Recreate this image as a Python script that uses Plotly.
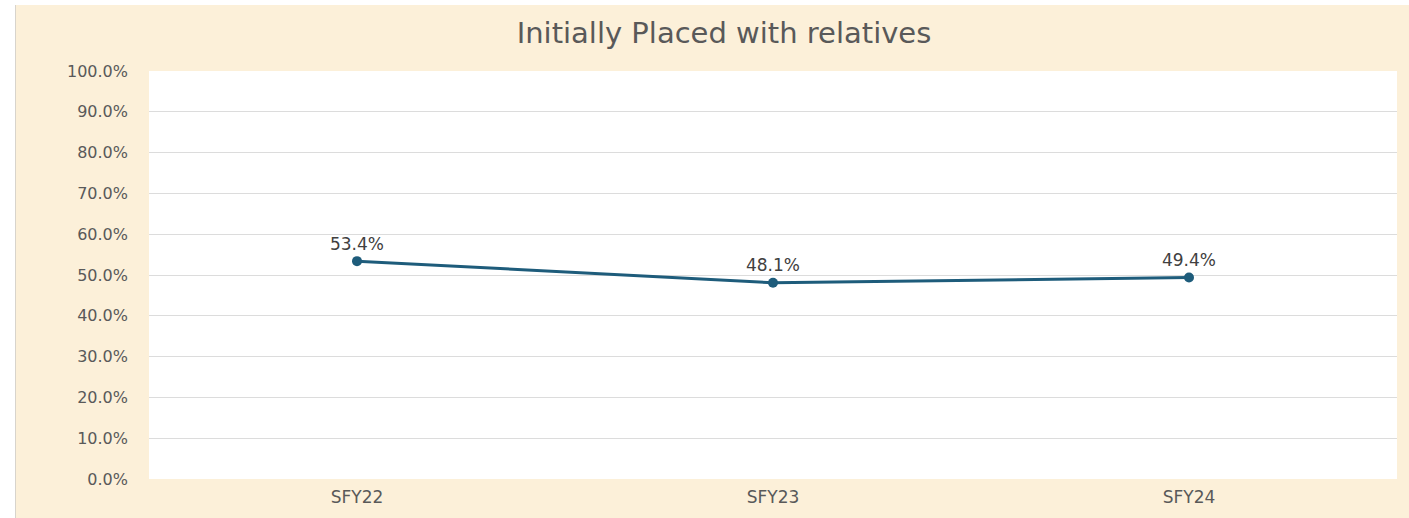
import plotly.graph_objects as go

categories = ["SFY22", "SFY23", "SFY24"]
values = [0.534, 0.481, 0.494]
value_labels = ["53.4%", "48.1%", "49.4%"]
y_ticks = [0, 0.1, 0.2, 0.3, 0.4, 0.5, 0.6, 0.7, 0.8, 0.9, 1.0]
y_tick_labels = ["0.0%", "10.0%", "20.0%", "30.0%", "40.0%", "50.0%",
                 "60.0%", "70.0%", "80.0%", "90.0%", "100.0%"]
title_text = "Initially Placed with relatives"

W, H = 1409, 518
L, R, T, B = 149, 12, 71, 39
pw, ph = W - L - R, H - T - B

def px_x(px):
    return (px - L) / pw

def px_y(py):
    return (H - B - py) / ph

line_color = "#1E5C7B"
text_color = "#595959"
font_family = "DejaVu Sans, Arial, sans-serif"

fig = go.Figure()
fig.add_trace(go.Scatter(
    x=categories, y=values,
    mode="lines+markers+text",
    line=dict(color=line_color, width=3),
    marker=dict(color=line_color, size=10),
    text=value_labels,
    textposition="top center",
    textfont=dict(family=font_family, size=17, color="#404040"),
    cliponaxis=False,
    showlegend=False,
))

shapes = [
    # white page strip on top and left
    dict(type="rect", xref="paper", yref="paper",
         x0=px_x(-5), x1=px_x(W + 5), y0=px_y(5), y1=px_y(-5),
         fillcolor="white", line=dict(width=0), layer="below"),
    dict(type="rect", xref="paper", yref="paper",
         x0=px_x(-5), x1=px_x(15), y0=px_y(H + 5), y1=px_y(-5),
         fillcolor="white", line=dict(width=0), layer="below"),
    dict(type="line", xref="paper", yref="paper",
         x0=px_x(15.5), x1=px_x(15.5), y0=px_y(H + 5), y1=px_y(5),
         line=dict(color="#D8D4CC", width=1), layer="below"),
]

fig.update_layout(
    width=W, height=H,
    margin=dict(l=L, r=R, t=T, b=B, autoexpand=False),
    paper_bgcolor="#FCF0D9",
    plot_bgcolor="white",
    shapes=shapes,
    title=dict(
        text=title_text,
        x=724 / W, xref="container", xanchor="center",
        y=1 - 33 / H, yref="container", yanchor="middle",
        font=dict(family=font_family, size=29, color=text_color),
    ),
    xaxis=dict(
        type="category",
        range=[-0.5, len(categories) - 0.5],
        showgrid=False, showline=False, zeroline=False,
        tickfont=dict(family=font_family, size=17, color=text_color),
        ticklabelstandoff=6,
    ),
    yaxis=dict(
        range=[0, 1],
        tickvals=y_ticks, ticktext=y_tick_labels,
        showgrid=True, gridcolor="#DCDCDC", gridwidth=1,
        zeroline=False, showline=False,
        tickfont=dict(family=font_family, size=16, color=text_color),
        ticklabelstandoff=20,
    ),
)

fig.write_html("out.html")
